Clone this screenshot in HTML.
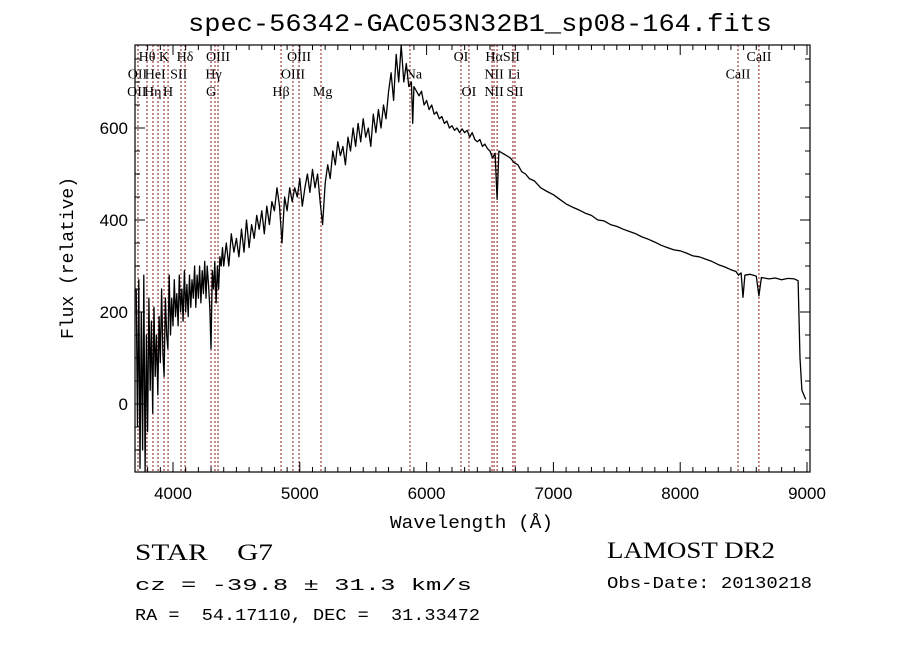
<!DOCTYPE html>
<html><head><meta charset="utf-8">
<style>
html,body{margin:0;padding:0;background:#fff;}
svg{display:block;}
</style></head>
<body>
<svg id="chart" width="900" height="649" xmlns="http://www.w3.org/2000/svg">
<rect width="900" height="649" fill="#fff"/>
<text x="188" y="31" textLength="584" lengthAdjust="spacingAndGlyphs" font-family="Liberation Mono, monospace" font-size="25">spec-56342-GAC053N32B1_sp08-164.fits</text>
<text transform="translate(73,258) rotate(-90)" text-anchor="middle" font-family="Liberation Mono, monospace" font-size="18">Flux (relative)</text>
<text x="390" y="528" textLength="163" lengthAdjust="spacingAndGlyphs" font-family="Liberation Mono, monospace" font-size="18">Wavelength (Å)</text>
<text x="135" y="560" textLength="138" lengthAdjust="spacingAndGlyphs" font-family="Liberation Serif, serif" font-size="23" xml:space="preserve">STAR    G7</text>
<text x="135" y="590" textLength="337" lengthAdjust="spacingAndGlyphs" font-family="Liberation Mono, monospace" font-size="17" xml:space="preserve">cz = -39.8 ± 31.3 km/s</text>
<text x="135" y="620" textLength="345" lengthAdjust="spacingAndGlyphs" font-family="Liberation Mono, monospace" font-size="17" xml:space="preserve">RA =  54.17110, DEC =  31.33472</text>
<text x="607" y="558" textLength="168" lengthAdjust="spacingAndGlyphs" font-family="Liberation Serif, serif" font-size="23">LAMOST DR2</text>
<text x="607" y="588" textLength="205" lengthAdjust="spacingAndGlyphs" font-family="Liberation Mono, monospace" font-size="17">Obs-Date: 20130218</text>
<g id="plot"></g>
</svg>
<script>
const xTicks=[4000,5000,6000,7000,8000,9000];
const yTicks=[0,200,400,600];
const lineWaves=[3724,3795,3842,3882,3929,3961,4063,4095,4300,4331,4355,4852,4946,4994,5167,5869,6271,6334,6516,6532,6556,6681,6697,8456,8621];
const labelText=["Hθ","K","Hδ","OIII","OIII","OI","HαSII","CaII","OII","HeI","SII","Hγ","OIII","Na","NII","Li","CaII","OII","Hη","H","G","Hβ","Mg","OI","NII","SII"];
const labelWave=[3795,3929,4095,4355,4994,6271,6600,8621,3720,3860,4045,4320,4946,5900,6532,6690,8456,3715,3840,3961,4300,4852,5180,6334,6532,6697];
const labelRow=[0,0,0,0,0,0,0,0,1,1,1,1,1,1,1,1,1,2,2,2,2,2,2,2,2,2];
const waves=[3710,3720,3730,3740,3750,3760,3770,3780,3790,3800,3810,3820,3830,3840,3850,3860,3870,3880,3890,3900,3910,3920,3930,3940,3950,3960,3970,3980,3990,4000,4010,4020,4030,4040,4050,4060,4070,4080,4090,4100,4110,4120,4130,4140,4150,4160,4170,4180,4190,4200,4210,4220,4230,4240,4250,4260,4270,4280,4290,4300,4310,4320,4330,4340,4350,4360,4370,4380,4390,4400,
4420,4440,4460,4480,4500,4520,4540,4560,4580,4600,4620,4640,4660,4680,4700,4720,4740,4760,4780,4800,4820,4840,4860,4880,4900,4920,4940,4960,4980,5000,5020,5040,5060,5080,5100,5120,5140,5160,5180,5200,5220,5240,5260,5280,5300,5320,5340,5360,5380,5400,5420,5440,5460,5480,5500,5520,5540,5560,5580,5600,5620,5640,5660,5680,5700,5720,5740,5760,5780,5800,5820,5840,5860,5880,5890,5900,5920,5940,5960,5980,6000,6020,6040,6060,6080,6100,6120,6140,6160,6180,6200,6220,6240,6260,6280,6300,6320,6340,6360,6380,6400,6420,6440,6460,6480,6500,6520,6540,6556,6570,6600,6630,6660,6690,6720,6750,6780,6810,6850,6900,6950,7000,7050,7100,7150,7200,7250,7300,7350,7400,7450,7500,7550,7600,7650,7700,7750,7800,7850,7900,7950,8000,8050,8100,8150,8200,8250,8300,8350,8400,8440,8460,8480,8495,8510,8550,8600,8621,8640,8700,8750,8800,8850,8900,8930,8945,8960,8990];
const fluxes=[250,-50,270,-140,200,-100,280,-150,150,-60,230,30,180,-20,210,60,150,20,190,90,250,110,60,230,150,120,280,150,230,170,270,190,240,170,280,200,250,180,290,200,260,190,280,210,270,230,300,210,280,230,300,220,290,240,310,230,300,260,210,120,290,250,310,220,300,250,320,300,340,300,
350,300,370,330,360,320,380,330,400,340,390,360,410,380,420,370,430,390,440,420,470,430,350,450,420,470,440,470,450,490,430,470,500,460,510,470,500,440,390,480,520,490,550,520,570,540,560,520,580,550,600,560,610,570,620,580,600,560,630,590,640,600,650,620,680,720,660,760,700,780,700,740,690,700,610,690,680,670,680,650,660,640,650,630,635,620,625,610,615,600,605,595,600,590,598,590,595,580,590,575,570,575,560,565,555,550,535,545,445,550,545,540,535,525,520,505,500,490,485,470,462,455,445,435,428,422,415,410,400,398,390,386,380,375,370,363,358,352,345,340,335,333,328,322,320,315,310,303,298,292,288,280,285,232,280,282,278,235,275,272,274,270,273,272,268,100,30,10];

const L=135,R=810,T=45,B=472;
const xOf=w=>173+(w-4000)*0.1268;
const yOf=f=>404-f*0.46;
const NS="http://www.w3.org/2000/svg";
const g=document.getElementById('plot');
function mk(tag,attrs){const e=document.createElementNS(NS,tag);for(const k in attrs)e.setAttribute(k,attrs[k]);g.appendChild(e);return e;}

lineWaves.forEach(w=>{
  const e=mk('line',{x1:xOf(w),x2:xOf(w),y1:T,y2:B,stroke:'#8b1a1a','stroke-width':1,'stroke-dasharray':'2,2'});
  
  
});
labelText.forEach((t,i)=>{
  const e=mk('text',{x:xOf(labelWave[i]),y:61+labelRow[i]*17.5,'text-anchor':'middle','font-family':'Liberation Serif, serif','font-size':14});
  e.textContent=t;
  
  
});

let d='';
waves.forEach((w,i)=>{d+=(i?'L':'M')+xOf(w).toFixed(1)+','+Math.min(B,Math.max(T,yOf(fluxes[i]))).toFixed(1);});
const sp=mk('path',{d:d,fill:'none',stroke:'#000','stroke-width':1.3,'stroke-linejoin':'round'});



const fr=mk('rect',{x:L,y:T,width:R-L,height:B-T,fill:'none',stroke:'#000','stroke-width':1.2});



for(let w=3800;w<=9000;w+=100){
  const x=xOf(w); if(x<L||x>R)continue;
  const len=(w%1000===0)?10:5;
  mk('line',{x1:x,x2:x,y1:B,y2:B-len,stroke:'#000'});
  mk('line',{x1:x,x2:x,y1:T,y2:T+len,stroke:'#000'});
}
xTicks.forEach(w=>{
  const e=mk('text',{x:xOf(w),y:B+27,'text-anchor':'middle','font-family':'Liberation Sans, sans-serif','font-size':17});
  e.textContent=w;
  
  
});
for(let f=-100;f<=750;f+=50){
  const y=yOf(f); if(y<T||y>B)continue;
  const len=(f%200===0)?10:5;
  mk('line',{x1:L,x2:L+len,y1:y,y2:y,stroke:'#000'});
  mk('line',{x1:R,x2:R-len,y1:y,y2:y,stroke:'#000'});
}
yTicks.forEach(f=>{
  const e=mk('text',{x:L-7,y:yOf(f)+6,'text-anchor':'end','font-family':'Liberation Sans, sans-serif','font-size':17});
  e.textContent=f;
  
  
});
</script>
</body></html>
